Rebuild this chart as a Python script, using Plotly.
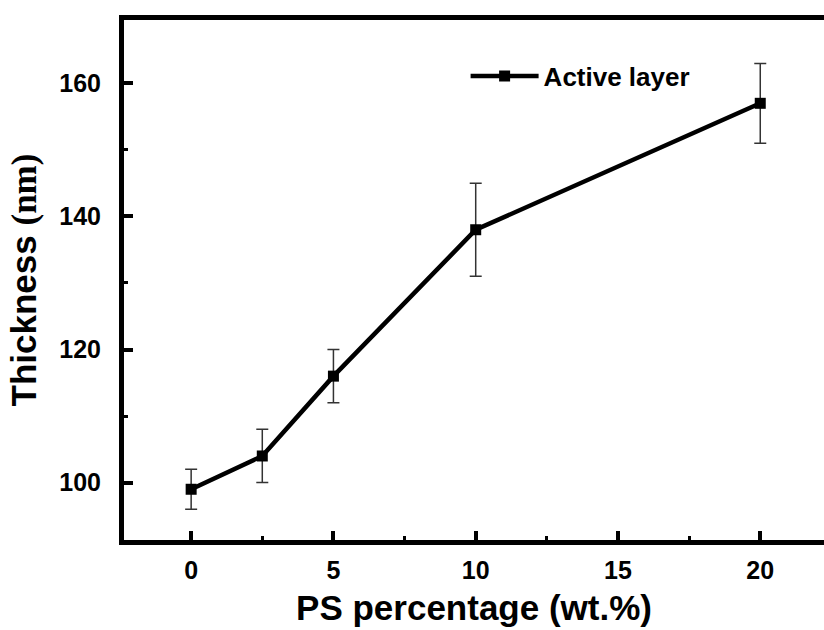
import plotly.graph_objects as go

ps_percent = [0, 2.5, 5, 10, 20]
thickness = [99, 104, 116, 138, 157]
thickness_err = [3, 4, 4, 7, 6]
series_name = "Active layer"
x_ticks = [0, 5, 10, 15, 20]
y_ticks = [100, 120, 140, 160]

W, H = 824, 630
fig = go.Figure()
fig.add_trace(go.Scatter(
    x=ps_percent, y=thickness, name="<b>" + series_name + "</b>", mode="lines+markers",
    line=dict(color="black", width=4.5),
    marker=dict(symbol="square", size=11, color="black"),
    error_y=dict(type="data", array=thickness_err, visible=True,
                 color="#333333", thickness=1.5, width=6),
))

axis_font = dict(family="Liberation Sans, Arial", size=25, color="black")
fig.update_layout(
    width=W, height=H,
    margin=dict(l=123.5, r=0, t=19.5, b=89.5),
    paper_bgcolor="white", plot_bgcolor="white",
    showlegend=True,
    legend=dict(x=0.488, y=0.892, xanchor="left", yanchor="middle",
                bgcolor="rgba(0,0,0,0)", itemwidth=68,
                font=dict(family="Liberation Sans, Arial", size=26, color="black")),
    xaxis=dict(
        range=[-2.36, 22.24], tickvals=x_ticks, ticktext=["<b>%g</b>" % v for v in x_ticks],
        ticks="inside", ticklen=9, tickwidth=4,
        tickcolor="black", showline=True, linewidth=5, linecolor="black", mirror=True,
        showgrid=False, zeroline=False, tickfont=axis_font, ticklabelstandoff=4,
        minor=dict(ticks="inside", ticklen=4, tickwidth=3, dtick=2.5, tick0=0, tickcolor="black"),
        title=dict(text="<b>PS percentage (wt.%)</b>", standoff=14,
                   font=dict(family="Liberation Sans, Arial", size=35, color="black")),
    ),
    yaxis=dict(
        range=[91.375, 169.52], tickvals=y_ticks, ticktext=["<b>%g</b>" % v for v in y_ticks],
        ticks="inside", ticklen=9, tickwidth=4,
        tickcolor="black", showline=True, linewidth=5, linecolor="black", mirror=False,
        showgrid=False, zeroline=False, tickfont=axis_font, ticklabelstandoff=13,
        minor=dict(ticks="inside", ticklen=4, tickwidth=3, dtick=10, tick0=100, tickcolor="black"),
        title=dict(text="<b>Thickness <span style='font-family:Liberation Serif'>(nm)</span></b>", standoff=14,
                   font=dict(family="Liberation Sans, Arial", size=35, color="black")),
    ),
)
fig.write_html("out.html")
